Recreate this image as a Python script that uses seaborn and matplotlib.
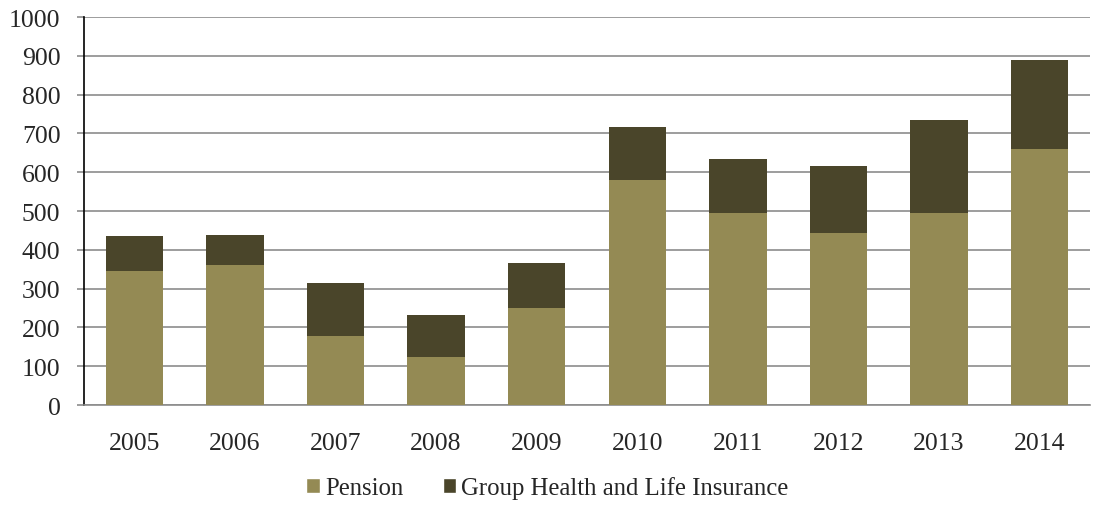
import numpy as np
import pandas as pd
import matplotlib
matplotlib.use('Agg')
import matplotlib.pyplot as plt
import seaborn as sns
from matplotlib.patches import Patch

# data
years = ['2005', '2006', '2007', '2008', '2009', '2010', '2011', '2012', '2013', '2014']
pension = [345, 360, 177, 123, 250, 579, 494, 443, 496, 659]
group_health = [90, 78, 137, 110, 116, 137, 141, 173, 239, 231]

pension_color = '#948A54'
health_color = '#4A452A'

df = pd.DataFrame({'year': years, 'Pension': pension,
                   'Group Health and Life Insurance': group_health})
df['total'] = df['Pension'] + df['Group Health and Life Insurance']

sns.set_style('white')
plt.rcParams['font.family'] = ['Liberation Serif', 'DejaVu Serif']

fig = plt.figure(figsize=(10.97, 5.06), dpi=100)
ax = fig.add_axes([0.0766, 0.1976, 0.9170, 0.7668])

# stacked bars: total first (dark), then pension over it
sns.barplot(data=df, x='year', y='total', color=health_color, saturation=1,
            width=0.57, linewidth=0, ax=ax, zorder=3)
sns.barplot(data=df, x='year', y='Pension', color=pension_color, saturation=1,
            width=0.57, linewidth=0, ax=ax, zorder=4)

ax.set_ylim(0, 1000)
ax.set_yticks(np.arange(0, 1001, 100))
ax.set_xlim(-0.5, len(years) - 0.5)
ax.yaxis.grid(True, color='#8c8c8c', linewidth=1.2, zorder=0)
ax.set_axisbelow(True)
ax.set_xlabel('')
ax.set_ylabel('')

for side in ['top', 'right']:
    ax.spines[side].set_visible(False)
ax.spines['left'].set_color('black')
ax.spines['left'].set_linewidth(1.2)
ax.spines['bottom'].set_color('#8c8c8c')
ax.spines['bottom'].set_linewidth(1.2)

ax.tick_params(axis='y', which='both', left=True, length=5, width=1.2,
               color='#8c8c8c', labelsize=18.5, pad=12)
ax.tick_params(axis='x', bottom=False, labelsize=18.5, pad=16)

handles = [Patch(facecolor=pension_color, label='Pension'),
           Patch(facecolor=health_color, label='Group Health and Life Insurance')]
fig.legend(handles=handles, loc='center', bbox_to_anchor=(0.499, 0.034), ncol=2,
           frameon=False, fontsize=17.8, handlelength=0.55, handleheight=0.55,
           handletextpad=0.2, columnspacing=1.6, borderpad=0)

fig.savefig('out.png', dpi=100)
